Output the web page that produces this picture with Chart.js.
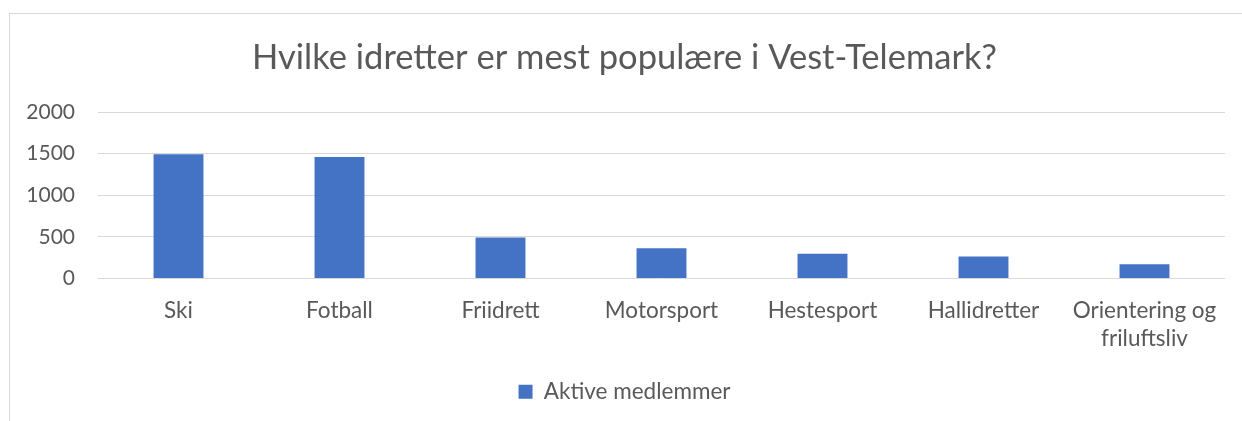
<!DOCTYPE html>
<html>
<head>
<meta charset="utf-8">
<script src="https://cdn.jsdelivr.net/npm/chart.js@4/dist/chart.umd.min.js"></script>
<style>
  html, body { margin: 0; padding: 0; background: #fff; }
  .wrap { position: relative; width: 1242px; height: 421px; overflow: hidden; }
  .frame { position: absolute; left: 9px; top: 13px; width: 1300px; height: 500px; border: 1px solid #d9d9d9; box-sizing: border-box; }
  canvas { position: absolute; left: 0; top: 0; }
</style>
</head>
<body>
<div class="wrap">
  <div class="frame"></div>
  <canvas id="chart" width="1242" height="421"></canvas>
</div>
<script>
const categories = ['Ski', 'Fotball', 'Friidrett', 'Motorsport', 'Hestesport', 'Hallidretter', ['Orientering og', 'friluftsliv']];
const activeMembers = [1492, 1460, 492, 362, 298, 265, 170];
const yTicks = [0, 500, 1000, 1500, 2000];

const textColor = '#595959';
const fontFamily = 'Lato, "Open Sans", sans-serif';

new Chart(document.getElementById('chart'), {
  type: 'bar',
  data: {
    labels: categories,
    datasets: [{
      label: 'Aktive medlemmer',
      data: activeMembers,
      backgroundColor: '#4472c4',
      barPercentage: 1,
      categoryPercentage: 0.31
    }]
  },
  options: {
    responsive: false,
    animation: false,
    layout: { padding: { left: 24, right: 17, top: 0, bottom: 8 } },
    plugins: {
      title: {
        display: true,
        text: 'Hvilke idretter er mest populære i Vest-Telemark?',
        color: textColor,
        font: { family: fontFamily, size: 34.5, weight: 'normal', lineHeight: 1.2 },
        padding: { top: 37, bottom: 33.6 }
      },
      legend: {
        position: 'bottom',
        labels: {
          color: textColor,
          font: { family: fontFamily, size: 22.5 },
          boxWidth: 14,
          boxHeight: 14,
          padding: 10
        }
      },
      tooltip: { enabled: false }
    },
    scales: {
      x: {
        grid: { display: false },
        border: { display: false },
        ticks: {
          color: textColor,
          font: { family: fontFamily, size: 22.5, lineHeight: '28px' },
          padding: 10,
          maxRotation: 0,
          autoSkip: false
        },
        afterFit: scale => { scale.height = 92; }
      },
      y: {
        min: 0,
        max: 2000,
        afterBuildTicks: scale => { scale.ticks = yTicks.map(v => ({ value: v })); },
        grid: { color: '#d9d9d9', drawTicks: false },
        border: { display: false },
        ticks: {
          color: textColor,
          font: { family: fontFamily, size: 21 },
          padding: 23,
          callback: v => String(v)
        },
        afterFit: scale => { scale.width = 74; }
      }
    }
  }
});
</script>
</body>
</html>
